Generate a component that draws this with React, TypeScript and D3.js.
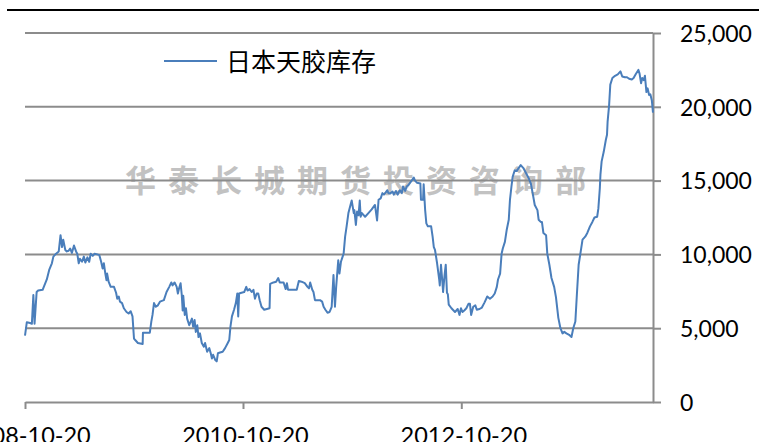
import React, { useEffect, useRef } from "react";
import * as d3 from "d3";

const W = 759;
const H = 442;

const seriesName = "日本天胶库存";
const watermark = "华泰长城期货投资咨询部";
const yTicks = [0, 5000, 10000, 15000, 20000, 25000];
const xTickDates = ["2008-10-20", "2010-10-20", "2012-10-20"];
const xDomain = ["2008-10-20", "2014-07-24"];

// Japan natural rubber stocks (tonnes)
const stock: [string, number][] = [
  ["2008-10-20", 4500], ["2008-10-26", 5400], ["2008-11-06", 5350], ["2008-11-12", 5300],
  ["2008-11-17", 7250], ["2008-11-21", 5300], ["2008-11-28", 7450], ["2008-12-03", 7550],
  ["2008-12-18", 7600],
  ["2009-01-01", 8300], ["2009-01-09", 8950], ["2009-01-18", 9400], ["2009-01-23", 9850],
  ["2009-02-01", 10050], ["2009-02-10", 10200], ["2009-02-16", 11300], ["2009-02-21", 10500],
  ["2009-02-25", 11000], ["2009-03-04", 10300], ["2009-03-09", 10200], ["2009-03-15", 10250],
  ["2009-03-20", 10400], ["2009-03-26", 10100], ["2009-04-02", 10600], ["2009-04-09", 10200],
  ["2009-04-13", 10050], ["2009-04-18", 9400], ["2009-04-22", 9700], ["2009-04-29", 9500],
  ["2009-05-05", 9850], ["2009-05-10", 9450], ["2009-05-17", 9800], ["2009-05-23", 9500],
  ["2009-05-28", 10050], ["2009-06-04", 9900], ["2009-06-10", 10050], ["2009-06-19", 10000],
  ["2009-06-26", 9950], ["2009-07-02", 9500], ["2009-07-07", 9050], ["2009-07-11", 9400],
  ["2009-07-16", 8700], ["2009-07-20", 8250], ["2009-07-22", 8700], ["2009-07-27", 8150],
  ["2009-08-03", 7800], ["2009-08-14", 7800], ["2009-08-21", 7400], ["2009-08-25", 7000],
  ["2009-08-30", 7150], ["2009-09-03", 6800], ["2009-09-10", 6700], ["2009-09-16", 6350],
  ["2009-09-25", 6100], ["2009-10-02", 6000], ["2009-10-09", 6150], ["2009-10-15", 5800],
  ["2009-10-20", 4300], ["2009-10-24", 4200], ["2009-11-02", 4000], ["2009-11-18", 3930],
  ["2009-11-19", 4700], ["2009-12-12", 4700], ["2009-12-17", 5450], ["2009-12-21", 5900],
  ["2009-12-26", 6700],
  ["2010-01-01", 6450], ["2010-01-08", 6550], ["2010-01-15", 6800], ["2010-01-28", 6900],
  ["2010-02-06", 7450], ["2010-02-15", 7800], ["2010-02-22", 8100], ["2010-02-26", 7900],
  ["2010-03-05", 8100], ["2010-03-12", 7800], ["2010-03-16", 7350], ["2010-03-20", 7700],
  ["2010-03-25", 8050], ["2010-03-29", 7250], ["2010-04-01", 6200], ["2010-04-03", 7200],
  ["2010-04-08", 5900], ["2010-04-12", 6350], ["2010-04-16", 5650], ["2010-04-23", 5200],
  ["2010-05-02", 5650], ["2010-05-06", 5100], ["2010-05-11", 5550], ["2010-05-15", 4750],
  ["2010-05-20", 5200], ["2010-05-24", 4400], ["2010-05-29", 4650], ["2010-06-04", 4000],
  ["2010-06-11", 3750], ["2010-06-15", 4000], ["2010-06-22", 3400], ["2010-06-29", 3650],
  ["2010-07-04", 3300], ["2010-07-08", 2950], ["2010-07-12", 3200], ["2010-07-19", 2850],
  ["2010-07-24", 2750], ["2010-07-28", 3300], ["2010-08-04", 3350], ["2010-08-13", 3400],
  ["2010-08-21", 3650], ["2010-08-30", 4000], ["2010-09-04", 4200], ["2010-09-08", 5100],
  ["2010-09-13", 5800], ["2010-09-20", 6250], ["2010-09-26", 6700], ["2010-10-01", 7350],
  ["2010-10-04", 5800], ["2010-10-07", 7350], ["2010-10-15", 7400], ["2010-10-24", 7450],
  ["2010-10-31", 7800], ["2010-11-04", 7550], ["2010-11-11", 7650], ["2010-11-18", 7450],
  ["2010-11-24", 7600], ["2010-11-29", 7000], ["2010-12-05", 7350], ["2010-12-10", 7350],
  ["2010-12-15", 6900], ["2010-12-21", 6450], ["2010-12-30", 6250],
  ["2011-01-08", 6300], ["2011-01-17", 6350], ["2011-01-19", 8000], ["2011-01-30", 8100],
  ["2011-02-08", 8150], ["2011-02-15", 8400], ["2011-02-20", 8100], ["2011-03-05", 8100],
  ["2011-03-12", 7650], ["2011-03-16", 8050], ["2011-03-20", 7600], ["2011-04-18", 7600],
  ["2011-04-25", 8200], ["2011-05-04", 8150], ["2011-05-15", 8050], ["2011-05-24", 7800],
  ["2011-05-29", 7700], ["2011-06-02", 8100], ["2011-06-09", 7600], ["2011-06-13", 7450],
  ["2011-06-18", 6900], ["2011-07-05", 6900], ["2011-07-12", 6800], ["2011-07-17", 6450],
  ["2011-07-23", 6250], ["2011-07-30", 6050], ["2011-08-06", 6100], ["2011-08-13", 6450],
  ["2011-08-19", 8600], ["2011-08-24", 6450], ["2011-08-28", 7800], ["2011-09-04", 9600],
  ["2011-09-08", 8700], ["2011-09-13", 9500], ["2011-09-17", 9750], ["2011-09-22", 10050],
  ["2011-09-27", 11200], ["2011-10-02", 11900], ["2011-10-08", 12800], ["2011-10-15", 13350],
  ["2011-10-19", 13650], ["2011-10-26", 12800], ["2011-10-28", 13000], ["2011-11-02", 12000],
  ["2011-11-06", 12900], ["2011-11-11", 12650], ["2011-11-15", 13650], ["2011-11-18", 12550],
  ["2011-11-22", 12800], ["2011-12-03", 12550], ["2011-12-14", 12800], ["2011-12-25", 13050],
  ["2012-01-05", 13350], ["2012-01-12", 12300], ["2012-01-17", 13700], ["2012-01-24", 13800],
  ["2012-01-30", 14150], ["2012-02-04", 14050], ["2012-02-10", 14200], ["2012-02-15", 14350],
  ["2012-02-19", 14150], ["2012-02-26", 14150], ["2012-03-04", 14250], ["2012-03-08", 14050],
  ["2012-03-15", 14300], ["2012-03-21", 14050], ["2012-03-28", 14350], ["2012-04-04", 14150],
  ["2012-04-08", 14600], ["2012-04-15", 14300], ["2012-04-20", 14600], ["2012-04-26", 14700],
  ["2012-05-05", 14950], ["2012-05-14", 15200], ["2012-05-18", 15000], ["2012-05-25", 14850],
  ["2012-06-05", 14800], ["2012-06-07", 13700], ["2012-06-14", 13700], ["2012-06-16", 14750],
  ["2012-06-21", 13000], ["2012-06-25", 12100], ["2012-06-30", 11900], ["2012-07-11", 11900],
  ["2012-07-16", 11200], ["2012-07-20", 10500], ["2012-07-24", 10300], ["2012-07-31", 9400],
  ["2012-08-07", 8300], ["2012-08-09", 7900], ["2012-08-13", 9300], ["2012-08-18", 8050],
  ["2012-08-20", 7450], ["2012-08-25", 8600], ["2012-08-29", 9300], ["2012-09-02", 7400],
  ["2012-09-05", 7300], ["2012-09-08", 6600], ["2012-09-17", 6350], ["2012-09-29", 6100],
  ["2012-10-08", 6300], ["2012-10-14", 5900], ["2012-10-19", 6350], ["2012-10-24", 6100],
  ["2012-10-30", 6200], ["2012-11-06", 6350], ["2012-11-13", 6650], ["2012-11-18", 6650],
  ["2012-11-22", 5900], ["2012-11-29", 6450], ["2012-12-06", 6550], ["2012-12-11", 6250],
  ["2012-12-20", 6300], ["2012-12-28", 6400],
  ["2013-01-06", 6750], ["2013-01-15", 7150], ["2013-01-24", 7000], ["2013-02-02", 7150],
  ["2013-02-09", 7350], ["2013-02-16", 7800], ["2013-02-20", 8300], ["2013-02-27", 8700],
  ["2013-03-04", 10050], ["2013-03-08", 10400], ["2013-03-15", 10850], ["2013-03-21", 11650],
  ["2013-03-28", 12350], ["2013-04-01", 13700], ["2013-04-06", 14600], ["2013-04-10", 15250],
  ["2013-04-17", 15700], ["2013-04-24", 15650], ["2013-04-30", 15850], ["2013-05-07", 16050],
  ["2013-05-16", 15850], ["2013-05-25", 15500], ["2013-06-03", 15150], ["2013-06-10", 14800],
  ["2013-06-16", 14150], ["2013-06-23", 13350], ["2013-07-02", 13000], ["2013-07-06", 12350],
  ["2013-07-13", 12200], ["2013-07-17", 12200], ["2013-07-22", 11450], ["2013-07-31", 11300],
  ["2013-08-04", 10050], ["2013-08-11", 9300], ["2013-08-18", 8400], ["2013-08-27", 7800],
  ["2013-09-02", 7100], ["2013-09-10", 5700], ["2013-09-17", 5000], ["2013-09-24", 4650],
  ["2013-09-30", 4750], ["2013-10-07", 4650], ["2013-10-16", 4550], ["2013-10-24", 4400],
  ["2013-10-30", 5000], ["2013-11-06", 5450], ["2013-11-11", 7250], ["2013-11-17", 9300],
  ["2013-11-24", 10200], ["2013-11-30", 11000], ["2013-12-09", 11200], ["2013-12-16", 11450],
  ["2013-12-25", 11900],
  ["2014-01-02", 12200], ["2014-01-09", 12500], ["2014-01-18", 12550], ["2014-01-22", 13100],
  ["2014-01-27", 14500], ["2014-01-29", 15400], ["2014-02-02", 16300], ["2014-02-09", 16950],
  ["2014-02-16", 17750], ["2014-02-20", 18100], ["2014-02-22", 19000], ["2014-02-27", 20100],
  ["2014-03-03", 21500], ["2014-03-10", 21950], ["2014-03-19", 22100], ["2014-03-28", 22200],
  ["2014-04-06", 22400], ["2014-04-12", 22050], ["2014-04-21", 22000], ["2014-04-28", 22000],
  ["2014-05-05", 21900], ["2014-05-14", 21850], ["2014-05-20", 21950], ["2014-05-27", 22200],
  ["2014-06-05", 22500], ["2014-06-09", 22250], ["2014-06-14", 21600], ["2014-06-18", 21950],
  ["2014-06-23", 21800], ["2014-06-27", 22100], ["2014-07-02", 21000], ["2014-07-06", 21250],
  ["2014-07-11", 20800], ["2014-07-15", 20850], ["2014-07-20", 20450], ["2014-07-24", 19600],
];

const GRID = "#8c8c8c";
const BLUE = "#4a7ebb";
const LATIN = "Lato, 'Open Sans', sans-serif";
const CJK = "'Noto Sans CJK SC', sans-serif";

export default function App() {
  const svgRef = useRef<SVGSVGElement | null>(null);
  const m = { top: 33, right: 106, bottom: 40, left: 25 };

  useEffect(() => {
    const svg = d3.select(svgRef.current);
    svg.selectAll("*").remove();

    const parse = d3.timeParse("%Y-%m-%d");
    const x = d3
      .scaleTime()
      .domain(xDomain.map((d) => parse(d) as Date))
      .range([m.left, W - m.right]);
    const y = d3.scaleLinear().domain([0, 25000]).range([H - m.bottom, m.top]);

    // top rule
    svg.append("line")
      .attr("x1", 7).attr("x2", W).attr("y1", 10).attr("y2", 10)
      .attr("stroke", "#000").attr("stroke-width", 2);

    // watermark sits behind everything
    svg.append("text")
      .attr("x", 125).attr("y", 178)
      .attr("dominant-baseline", "central")
      .style("font-family", CJK).style("font-size", "31px").style("font-weight", 700)
      .style("letter-spacing", "12px")
      .attr("fill", "#c2c2c2")
      .text(watermark);

    // gridlines
    svg.append("g")
      .selectAll("line")
      .data(yTicks.filter((t) => t > 0))
      .enter()
      .append("line")
      .attr("x1", m.left).attr("x2", W - m.right)
      .attr("y1", (d) => y(d)).attr("y2", (d) => y(d))
      .attr("stroke", GRID).attr("stroke-width", 2);

    // right value axis
    const yAxis = d3.axisRight(y)
      .tickValues(yTicks)
      .tickSize(8)
      .tickSizeOuter(0)
      .tickPadding(19)
      .tickFormat((d) => d3.format(",")(d as number));
    const gy = svg.append("g").attr("transform", `translate(${W - m.right},0)`).call(yAxis);
    gy.select(".domain").attr("stroke", GRID).attr("stroke-width", 2);
    gy.selectAll(".tick line").attr("stroke", GRID).attr("stroke-width", 2);
    gy.selectAll(".tick text")
      .attr("dy", "0.36em")
      .style("font-family", LATIN).style("font-size", "23px").attr("fill", "#000");

    // date axis
    const xAxis = d3.axisBottom(x)
      .tickValues(xTickDates.map((d) => parse(d) as Date))
      .tickSize(7)
      .tickSizeOuter(0)
      .tickPadding(18)
      .tickFormat((d) => d3.timeFormat("%Y-%m-%d")(d as Date));
    const gx = svg.append("g").attr("transform", `translate(0,${H - m.bottom})`).call(xAxis);
    gx.select(".domain").attr("stroke", GRID).attr("stroke-width", 2);
    gx.selectAll(".tick line").attr("stroke", GRID).attr("stroke-width", 2);
    gx.selectAll(".tick text")
      .attr("dx", "2")
      .style("font-family", LATIN).style("font-size", "23.5px").attr("fill", "#000");

    // series
    const line = d3.line<[string, number]>()
      .x((d) => x(parse(d[0]) as Date))
      .y((d) => y(d[1]));
    svg.append("path")
      .datum(stock)
      .attr("d", line)
      .attr("fill", "none")
      .attr("stroke", BLUE)
      .attr("stroke-width", 2)
      .attr("stroke-linejoin", "round");

    // legend
    svg.append("line")
      .attr("x1", 164).attr("x2", 217).attr("y1", 61).attr("y2", 61)
      .attr("stroke", BLUE).attr("stroke-width", 2);
    svg.append("text")
      .attr("x", 226).attr("y", 60)
      .attr("dominant-baseline", "central")
      .style("font-family", CJK).style("font-size", "25px")
      .attr("fill", "#000")
      .text(seriesName);
  }, []);

  return (
    <svg
      ref={svgRef}
      width={W}
      height={H}
      style={{ position: "absolute", left: 0, top: 0, background: "#fff" }}
    />
  );
}
